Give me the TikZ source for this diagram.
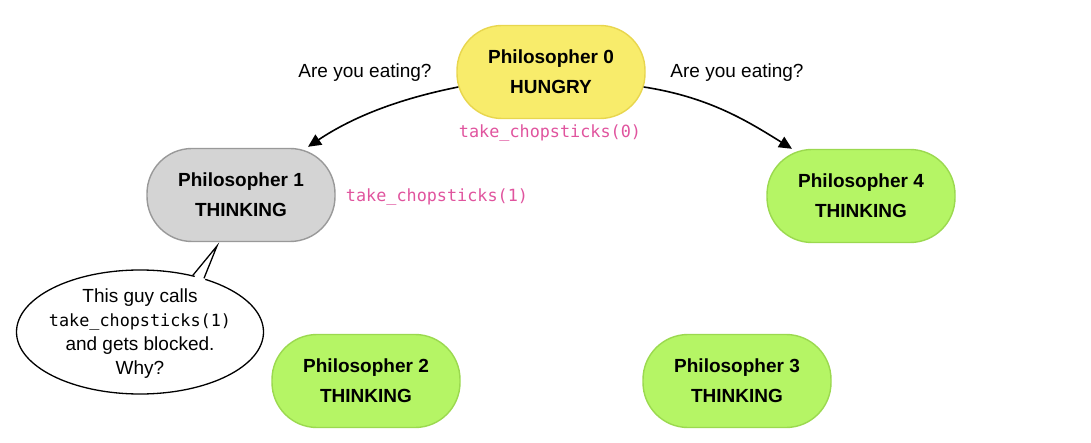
\documentclass[tikz,border=0pt]{standalone}
\usepackage{fontspec}
\setmainfont{Liberation Sans}
\newfontfamily\monofont{DejaVu Sans Mono}
\usetikzlibrary{arrows.meta,shapes.geometric}
\definecolor{yfill}{HTML}{F8EC6B}
\definecolor{ydraw}{HTML}{E8D64E}
\definecolor{gfill}{HTML}{D4D4D4}
\definecolor{gdraw}{HTML}{999999}
\definecolor{lfill}{HTML}{B5F565}
\definecolor{ldraw}{HTML}{9BD94F}
\definecolor{pinkc}{HTML}{E0549E}
\begin{document}
\begin{tikzpicture}[x=1pt,y=-1pt,
  phil/.style={rectangle, rounded corners=45pt, minimum width=188pt, minimum height=93pt,
    inner sep=0pt, line width=1.4pt, align=center,
    font=\fontsize{19}{30}\selectfont\bfseries},
  hungry/.style={phil, fill=yfill, draw=ydraw},
  thinkgray/.style={phil, fill=gfill, draw=gdraw},
  thinkgreen/.style={phil, fill=lfill, draw=ldraw},
  lbl/.style={font=\fontsize{19}{24}\selectfont, inner sep=0pt},
  code/.style={font=\monofont\fontsize{16.8}{24}\selectfont, text=pinkc, inner sep=0pt},
  arr/.style={line width=1.6pt, -{Triangle[length=13pt,width=12pt]}}
]
\useasboundingbox (0,0) rectangle (1091,443);

\node[hungry] (p0) at (551,72) {Philosopher 0\\HUNGRY};
\node[thinkgray] (p1) at (241,195) {Philosopher 1\\THINKING};
\node[thinkgreen] (p4) at (861,196) {Philosopher 4\\THINKING};
\node[thinkgreen] (p2) at (366,381) {Philosopher 2\\THINKING};
\node[thinkgreen] (p3) at (737,381) {Philosopher 3\\THINKING};

\node[lbl] (q1) at (365,73) {Are you eating?};
\node[lbl] (q4) at (737,73) {Are you eating?};
\node[code] (c0) at (550,133) {take\_chopsticks(0)};
\node[code] (c1) at (437,197) {take\_chopsticks(1)};

\draw[arr] ([xshift=2pt,yshift=-15pt]p0.west) .. controls +(-60,12) and +(45,-30) .. ([xshift=67pt,yshift=1pt]p1.north);
\draw[arr] ([xshift=-2pt,yshift=-15pt]p0.east) .. controls +(65,10) and +(-45,-28) .. ([xshift=-69pt]p4.north);

\node[ellipse, draw, fill=white, line width=1.3pt, minimum width=247pt, minimum height=124pt,
  inner sep=0pt] (bub) at (140,332) {};
\node[align=center, inner sep=0pt, font=\fontsize{19}{24}\selectfont] (bubtext) at (140,334)
  {This guy calls\\{\monofont\fontsize{16.8}{24}\selectfont take\_chopsticks(1)}\\and gets blocked.\\Why?};
\coordinate (tip) at (217,246);
\fill[white] (tip) -- ([yshift=-4pt]bub.47) -- ([yshift=-4pt]bub.40) -- cycle;
\draw[line width=1.3pt, line join=miter] (bub.47) -- (tip) -- (bub.40);
\end{tikzpicture}
\end{document}
